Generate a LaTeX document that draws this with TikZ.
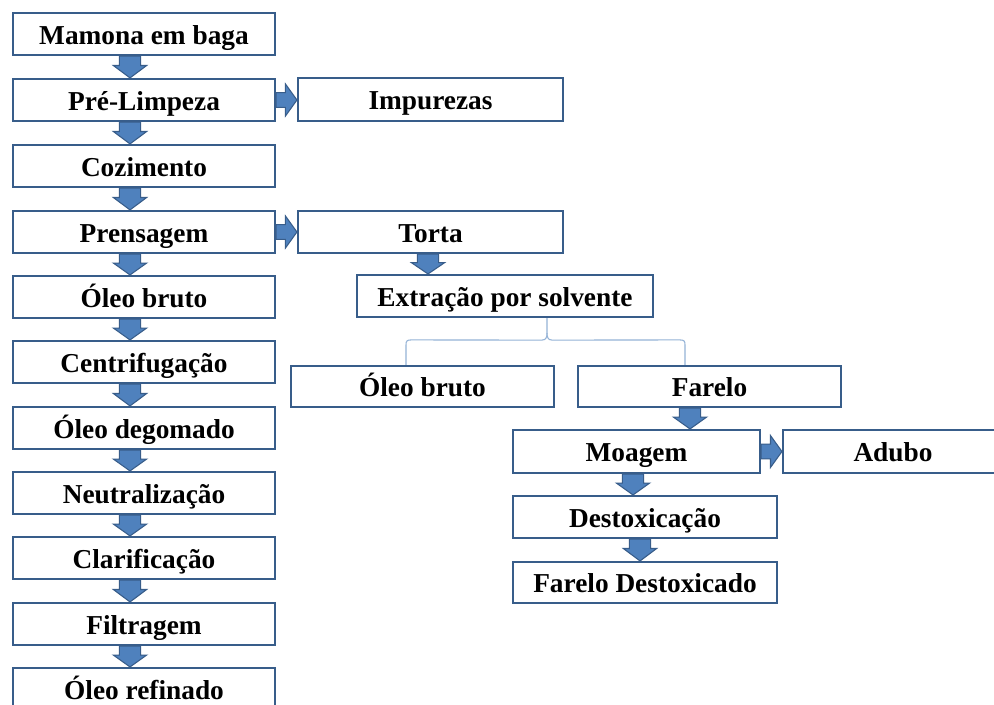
\documentclass[tikz,border=0pt]{standalone}
\usepackage{fontspec}
\setmainfont{Liberation Serif}
\usetikzlibrary{calc}
\definecolor{bord}{HTML}{385D8A}
\definecolor{afill}{HTML}{4F81BD}
\definecolor{brace}{HTML}{95B3D7}
\tikzset{
  box/.style={draw=bord, line width=1.6pt, fill=white, rectangle, inner sep=0pt,
    text height=16pt, text depth=0.5pt,
    font=\fontsize{20.5}{22}\selectfont\bfseries, text=black},
  barrow/.style={fill=afill, draw=bord, line width=0.8pt, line join=miter},
  bracestyle/.style={draw=brace, line width=0.8pt}
}
% box: name, x1, y1, x2, y2, text  (pixel coordinates)
\newcommand\bx[6]{\node[box, minimum width={(#4-#2)*0.75pt}, minimum height={(#5-#3)*0.75pt}]
  (#1) at ({(#2+#4)/2},{(#3+#5)/2}) {#6};}
% down arrow: from, to, x (px)
\newcommand\darrow[3]{\draw[barrow] let \p1=(#1.south), \p2=(#2.north), \n1={#3*0.75pt}, \n2={(\y1*0.57+\y2*0.43)} in
  (\n1-8pt,\y1) -- (\n1+8pt,\y1) -- (\n1+8pt,\n2) -- (\n1+12.5pt,\n2) -- (\n1,\y2)
  -- (\n1-12.5pt,\n2) -- (\n1-8pt,\n2) -- cycle;}
% right arrow: from, to
\newcommand\rarrow[2]{\draw[barrow] let \p1=(#1.east), \p2=(#2.west), \n2={(\x1*0.55+\x2*0.45)} in
  (\x1,\y1+5.5pt) -- (\n2,\y1+5.5pt) -- (\n2,\y1+12pt) -- (\x2,\y1) -- (\n2,\y1-12pt)
  -- (\n2,\y1-5.5pt) -- (\x1,\y1-5.5pt) -- cycle;}
\begin{document}
\begin{tikzpicture}[x=0.75pt,y=-0.75pt]
\clip (0,0) rectangle (994,704);
\fill[white] (0,0) rectangle (994,704);
\bx{m1}{13}{13}{275}{55}{Mamona em baga}
\bx{m2}{13}{79}{275}{121}{Pré-Limpeza}
\bx{m3}{13}{145}{275}{187}{Cozimento}
\bx{m4}{13}{211}{275}{253}{Prensagem}
\bx{m5}{13}{276}{275}{318}{Óleo bruto}
\bx{m6}{13}{341}{275}{383}{Centrifugação}
\bx{m7}{13}{407}{275}{449}{Óleo degomado}
\bx{m8}{13}{472}{275}{514}{Neutralização}
\bx{m9}{13}{537}{275}{579}{Clarificação}
\bx{m10}{13}{603}{275}{645}{Filtragem}
\bx{m11}{13}{668}{275}{710}{Óleo refinado}
\bx{imp}{298}{78}{563}{121}{Impurezas}
\bx{tor}{298}{211}{563}{253}{Torta}
\bx{ext}{357}{275}{653}{317}{Extração por solvente}
\bx{ob}{291}{366}{554}{407}{Óleo bruto}
\bx{far}{578}{366}{841}{407}{Farelo}
\bx{moa}{513}{430}{760}{473}{Moagem}
\bx{adu}{783}{430}{1003}{473}{Adubo}
\bx{des}{513}{496}{777}{538}{Destoxicação}
\bx{fd}{513}{562}{777}{603}{Farelo Destoxicado}
\darrow{m1}{m2}{130}
\darrow{m2}{m3}{130}
\darrow{m3}{m4}{130}
\darrow{m4}{m5}{130}
\darrow{m5}{m6}{130}
\darrow{m6}{m7}{130}
\darrow{m7}{m8}{130}
\darrow{m8}{m9}{130}
\darrow{m9}{m10}{130}
\darrow{m10}{m11}{130}
\darrow{tor}{ext}{428}
\darrow{far}{moa}{690}
\darrow{moa}{des}{633}
\darrow{des}{fd}{640}
\rarrow{m2}{imp}
\rarrow{m4}{tor}
\rarrow{moa}{adu}
% brace
\coordinate (bt) at ($(ext.south)+(42,0)$);
\coordinate (bl) at ($(ob.north)+(-16.5,0)$);
\coordinate (br) at ($(far.north)+(-24.5,0)$);
\draw[bracestyle] (bt) -- ++(0,15) .. controls ++(0,4) and ++(4,0) .. ++(-5,7)
  -- ($(bl)+(5,-25)$) .. controls ++(-4,0) and ++(0,-4) .. ($(bl)+(0,-20)$) -- (bl);
\draw[bracestyle] (bt) ++(0,15) .. controls ++(0,4) and ++(-4,0) .. ++(5,7)
  -- ($(br)+(-5,-25)$) .. controls ++(4,0) and ++(0,-4) .. ($(br)+(0,-20)$) -- (br);
\end{tikzpicture}
\end{document}
